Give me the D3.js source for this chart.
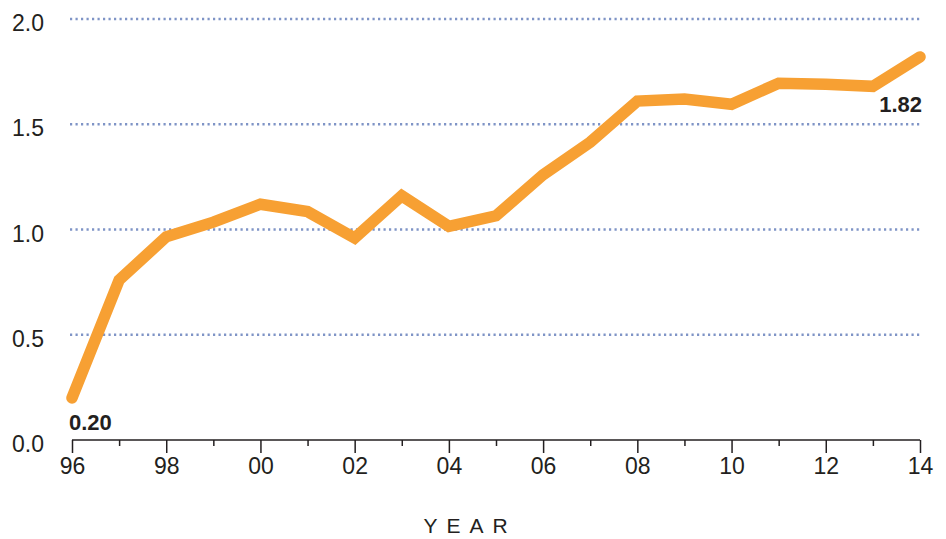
<!DOCTYPE html>
<html>
<head>
<meta charset="utf-8">
<script src="https://cdn.jsdelivr.net/npm/d3@7"></script>
<style>
  body { margin: 0; background: #fff; }
</style>
</head>
<body>
<script>
const years = [96, 97, 98, 99, 0, 1, 2, 3, 4, 5, 6, 7, 8, 9, 10, 11, 12, 13, 14]
const values = [0.20, 0.76, 0.965, 1.035, 1.12, 1.085, 0.96, 1.16, 1.015, 1.065, 1.26, 1.415, 1.61, 1.62, 1.595, 1.695, 1.69, 1.68, 1.82]
const yTicks = [0, 0.5, 1, 1.5, 2]
const xLabels = ['96', '98', '00', '02', '04', '06', '08', '10', '12', '14']

const overallWidth = 946
const overallHeight = 539
const margin = { left: 72, top: 19, right: 26, bottom: 99 }
const width = overallWidth - margin.left - margin.right
const height = overallHeight - margin.top - margin.bottom

const svg = d3.select('body').append('svg')
  .attr('width', overallWidth)
  .attr('height', overallHeight)
  .style('font-family', 'Liberation Sans, Arial, sans-serif')

const g = svg.append('g')
  .attr('transform', `translate(${margin.left},${margin.top})`)

// index based x, years wrap around 2000
const x = d3.scaleLinear().domain([0, years.length - 1]).range([0, width])
const y = d3.scaleLinear().domain([0, 2]).range([height, 0])

// dotted gridlines
g.append('g').attr('class', 'grid')
  .selectAll('line')
  .data(yTicks.filter(d => d > 0))
  .enter().append('line')
  .attr('x1', -2)
  .attr('x2', width)
  .attr('y1', d => y(d))
  .attr('y2', d => y(d))
  .style('stroke', '#7f94c6')
  .style('stroke-width', 2.4)
  .style('stroke-dasharray', '2.2,3.3')

// y labels
g.append('g').attr('class', 'y labels')
  .selectAll('text')
  .data(yTicks)
  .enter().append('text')
  .attr('x', -28)
  .attr('y', d => y(d) + 12)
  .style('text-anchor', 'end')
  .style('font-size', '23px')
  .style('fill', '#231f20')
  .text(d => d.toFixed(1))

// x axis
const xAxis = g.append('g').attr('class', 'x axis')
  .attr('transform', `translate(0,${height})`)
  .call(d3.axisBottom(x)
    .tickValues(d3.range(years.length))
    .tickSize(13)
    .tickPadding(5)
    .tickFormat((d, i) => i % 2 === 0 ? xLabels[i / 2] : ''))
xAxis.select('.domain')
  .attr('d', `M0,0H${width}`)
  .style('stroke', '#231f20')
  .style('stroke-width', 1.5)
xAxis.selectAll('.tick line')
  .style('stroke', '#231f20')
  .style('stroke-width', 1.5)
  .attr('y2', (d, i) => i % 2 === 0 ? 13 : 6)
xAxis.selectAll('.tick text')
  .style('font-size', '23px')
  .style('font-family', 'Liberation Sans, Arial, sans-serif')
  .style('fill', '#231f20')

svg.append('text')
  .attr('x', 470)
  .attr('y', 533)
  .style('text-anchor', 'middle')
  .style('font-size', '21px')
  .style('letter-spacing', '9px')
  .style('fill', '#231f20')
  .text('YEAR')

// the line
const line = d3.line()
  .x((d, i) => x(i))
  .y(d => y(d))

g.append('path')
  .datum(values)
  .attr('d', line)
  .style('fill', 'none')
  .style('stroke', '#f7a033')
  .style('stroke-width', 11.5)
  .style('stroke-linecap', 'round')
  .style('stroke-linejoin', 'miter')

// end labels
g.append('text')
  .attr('x', x(0) - 3)
  .attr('y', y(values[0]) + 32)
  .style('font-size', '22px')
  .style('font-weight', 'bold')
  .style('fill', '#231f20')
  .text(values[0].toFixed(2))

g.append('text')
  .attr('x', x(values.length - 1) + 2)
  .attr('y', y(values[values.length - 1]) + 55)
  .style('text-anchor', 'end')
  .style('font-size', '22px')
  .style('font-weight', 'bold')
  .style('fill', '#231f20')
  .text(values[values.length - 1].toFixed(2))
</script>
</body>
</html>
